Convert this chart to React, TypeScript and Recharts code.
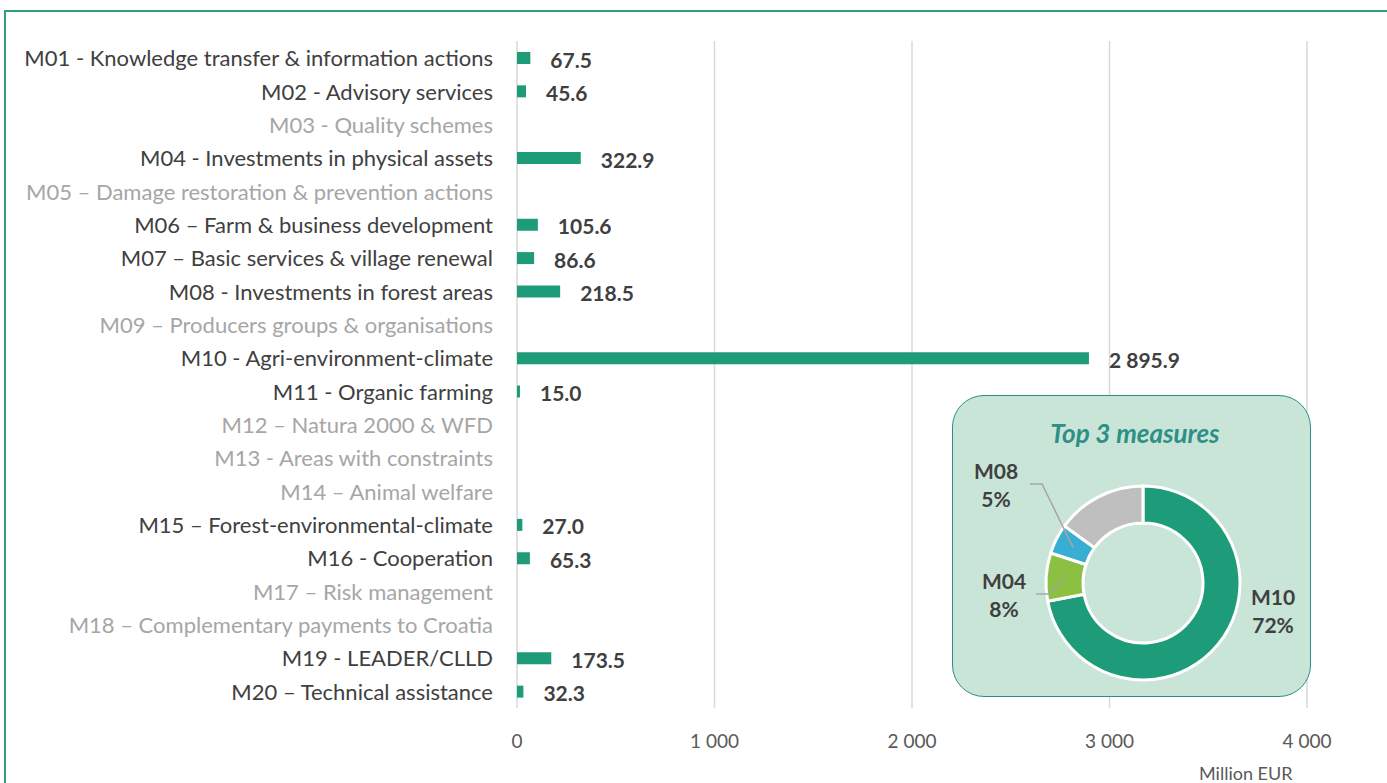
import React from 'react';
import { BarChart, Bar, XAxis, YAxis, CartesianGrid, LabelList, PieChart, Pie, Cell } from 'recharts';

const measures = [
  'M01 - Knowledge transfer & information actions',
  'M02 - Advisory services',
  'M03 - Quality schemes',
  'M04 - Investments in physical assets',
  'M05 – Damage restoration & prevention actions',
  'M06 – Farm & business development',
  'M07 – Basic services & village renewal',
  'M08 - Investments in forest areas',
  'M09 – Producers groups  & organisations',
  'M10 - Agri-environment-climate',
  'M11 - Organic farming',
  'M12 – Natura 2000 & WFD',
  'M13 - Areas with constraints',
  'M14 – Animal welfare',
  'M15 – Forest-environmental-climate',
  'M16 - Cooperation',
  'M17 – Risk management',
  'M18 – Complementary payments to Croatia',
  'M19 - LEADER/CLLD',
  'M20 – Technical assistance',
];

// null = measure not programmed (greyed label, no bar)
const amounts: (number | null)[] = [
  67.5, 45.6, null, 322.9, null, 105.6, 86.6, 218.5, null, 2895.9,
  15.0, null, null, null, 27.0, 65.3, null, null, 173.5, 32.3,
];

const xTicks = [0, 1000, 2000, 3000, 4000];

const topNames = ['M10', 'M04', 'M08', 'Other'];
const topShares = [72, 8, 5, 15];
const topColors = ['#1e9b78', '#8cc043', '#38aed2', '#bfbfbf'];

const FONT = 'Lato, "Open Sans", sans-serif';
const DARK = '#404040';

const fmt = (v: number) => {
  const [i, d] = v.toFixed(1).split('.');
  return i.replace(/\B(?=(\d{3})+(?!\d))/g, ' ') + '.' + d;
};

const barData = measures.map((name, i) => ({ name, value: amounts[i] }));
const pieData = topNames.map((name, i) => ({ name, value: topShares[i] }));

const CategoryTick = (props: any) => {
  const { x, y, payload } = props;
  const active = amounts[payload.index] != null;
  return (
    <text x={x} y={y} textAnchor="end" dominantBaseline="central" fontSize={22}
      fontFamily={FONT} fill={active ? DARK : '#a6a6a6'}>
      {payload.value}
    </text>
  );
};

const AmountTick = (props: any) => {
  const { x, y, payload } = props;
  return (
    <text x={x} y={y + 32} textAnchor="middle" dominantBaseline="central" fontSize={19}
      fontFamily={FONT} fill="#595959">
      {payload.value === 0 ? '0' : payload.value.toLocaleString('fr-FR').replace(/\s/g, ' ')}
    </text>
  );
};

const ValueLabel = (props: any) => {
  const { x, y, width, height, value } = props;
  if (value == null) return null;
  return (
    <text x={x + width + 20} y={y + height / 2 + 1} dominantBaseline="central" fontSize={21}
      fontWeight="bold" fontFamily={FONT} fill={DARK}>
      {fmt(value)}
    </text>
  );
};

// label placement around the donut, relative to its centre
const labelSpot: Record<string, { dx: number; dy: number; lead?: number }> = {
  M10: { dx: 130, dy: 13 },
  M04: { dx: -139, dy: -3, lead: -107 },
  M08: { dx: -147, dy: -113, lead: -113 },
};

const PieLabel = (props: any) => {
  const { cx, cy, midAngle, innerRadius, outerRadius, name, value } = props;
  const spot = labelSpot[name];
  if (!spot) return null;
  const rad = Math.PI / 180;
  const rm = (innerRadius + outerRadius) / 2;
  const ex = cx + rm * Math.cos(-midAngle * rad);
  const ey = cy + rm * Math.sin(-midAngle * rad);
  const lx = cx + spot.dx;
  const ly = cy + spot.dy;
  return (
    <g>
      {spot.lead != null && (
        <polyline
          points={`${cx + spot.lead},${ly + 14} ${cx + spot.lead + 12},${ly + 14} ${ex},${ey}`}
          fill="none" stroke="#a6a6a6" strokeWidth={1.5}
        />
      )}
      <text x={lx} y={ly} textAnchor="middle" dominantBaseline="central" fontSize={21}
        fontWeight="bold" fontFamily={FONT} fill={DARK}>{name}</text>
      <text x={lx} y={ly + 28} textAnchor="middle" dominantBaseline="central" fontSize={21}
        fontWeight="bold" fontFamily={FONT} fill={DARK}>{value}%</text>
    </g>
  );
};

export default function App() {
  return (
    <div style={{ position: 'relative', width: 1387, height: 783, overflow: 'hidden', background: '#fff', fontFamily: FONT }}>
      <style>{'body{margin:0;overflow:hidden}'}</style>
      <div style={{
        position: 'absolute', left: 4, top: 10, width: 1400, height: 800,
        borderLeft: '2px solid #2f9e7e', borderTop: '2px solid #2f9e7e',
      }} />
      <div style={{ position: 'absolute', left: 0, top: 0 }}>
        <BarChart width={1387} height={783} layout="vertical" data={barData}
          margin={{ top: 41, right: 80, left: 0, bottom: 35 }}>
          <CartesianGrid horizontal={false} stroke="#d9d9d9" strokeWidth={1.5} />
          <XAxis type="number" domain={[0, 4000]} ticks={xTicks} axisLine={false} tickLine={false}
            tickSize={0} tickMargin={0} height={40} tick={<AmountTick />} />
          <YAxis type="category" dataKey="name" width={517} axisLine={false} tickLine={false}
            tickSize={0} tickMargin={24} interval={0} tick={<CategoryTick />} />
          <Bar dataKey="value" fill="#1e9b78" barSize={12} isAnimationActive={false}>
            <LabelList dataKey="value" content={<ValueLabel />} />
          </Bar>
        </BarChart>
      </div>
      <div style={{
        position: 'absolute', left: 1199, top: 761, fontSize: 18, color: '#595959', lineHeight: '24px',
      }}>Million EUR</div>
      <div style={{
        position: 'absolute', left: 952, top: 395, width: 359, height: 302, boxSizing: 'border-box',
        border: '1.5px solid #2b8f87', borderRadius: 32, background: '#c9e5d8',
      }}>
        <div style={{
          position: 'absolute', left: 0, right: 0, top: 21, textAlign: 'center', fontSize: 26,
          fontWeight: 'bold', fontStyle: 'italic', color: '#2e8f87', lineHeight: '32px', paddingLeft: 7,
        }}>Top 3 measures</div>
        <div style={{ position: 'absolute', left: 0, top: 0 }}>
          <PieChart width={356} height={299} margin={{ top: 0, right: 0, bottom: 0, left: 0 }}>
            <Pie data={pieData} dataKey="value" nameKey="name" cx={190} cy={187}
              innerRadius={60} outerRadius={97} startAngle={90} endAngle={-270}
              stroke="#ffffff" strokeWidth={3} label={PieLabel} labelLine={false}
              isAnimationActive={false}>
              {pieData.map((d, i) => <Cell key={d.name} fill={topColors[i]} />)}
            </Pie>
          </PieChart>
        </div>
      </div>
    </div>
  );
}
